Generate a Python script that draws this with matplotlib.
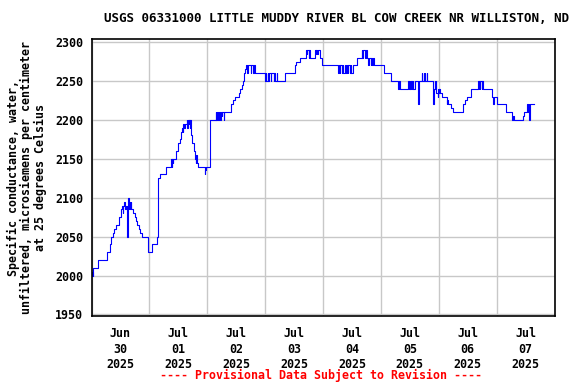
import numpy as np
import pandas as pd
import matplotlib
matplotlib.use("Agg")
import matplotlib.pyplot as plt

# Valeurs (heures depuis le 30 juin 00:00, µS/cm)
hours = [
    0.0, 0.25, 0.5, 0.75, 2.5, 6.25, 6.5, 7.5, 8.0, 8.25, 9.0, 9.5, 10.25, 11.25,
    12.25, 12.75, 13.0, 13.25, 13.5, 14.0, 14.25, 14.75, 15.0, 15.25, 15.5, 15.75,
    16.0, 16.25, 16.5, 17.25, 18.0, 18.5, 19.0, 19.5, 20.25, 20.75, 23.25, 25.25,
    27.0, 27.75, 28.5, 30.75, 33.0, 33.25, 33.5, 33.75, 34.0, 35.0, 35.75, 36.5,
    37.0, 37.5, 37.75, 38.0, 38.25, 38.75, 39.5, 39.75, 40.0, 40.25, 40.5, 40.75,
    41.0, 41.25, 41.75, 42.5, 43.0, 43.25, 43.5, 43.75, 44.25, 47.0, 47.25, 47.5,
    49.25, 51.5, 51.75, 52.0, 52.5, 52.75, 53.25, 53.5, 54.0, 54.25, 54.75, 55.0,
    58.0, 58.75, 59.5, 61.25, 61.75, 62.25, 62.75, 63.25, 63.5, 64.0, 64.5, 64.75,
    66.0, 66.25, 67.0, 67.25, 67.75, 72.0, 72.25, 72.5, 73.0, 73.25, 73.5, 74.25,
    74.5, 75.5, 75.75, 76.25, 76.75, 77.0, 80.25, 84.25, 85.0, 86.5, 89.0, 89.25,
    89.5, 90.0, 90.25, 90.5, 92.75, 93.0, 93.25, 93.5, 93.75, 94.75, 95.75,
    102.25, 102.5, 103.0, 103.25, 104.0, 104.25, 104.5, 105.0, 105.5, 105.75,
    106.25, 106.5, 107.0, 107.5, 107.75, 108.25, 110.25, 112.0, 112.25, 112.5,
    113.5, 113.75, 114.25, 114.75, 115.0, 115.75, 116.0, 116.5, 116.75, 117.0,
    121.25, 124.25, 127.25, 127.5, 127.75, 131.25, 131.5, 132.0, 132.25, 132.5,
    132.75, 133.25, 133.5, 134.0, 135.5, 135.75, 137.0, 137.25, 137.75, 138.0,
    138.25, 138.5, 139.0, 139.25, 141.75, 142.0, 142.25, 142.5, 142.75, 143.0,
    143.5, 143.75, 144.0, 144.25, 144.5, 145.25, 147.25, 147.5, 147.75, 149.25,
    150.0, 154.0, 154.75, 155.75, 157.5, 160.25, 160.5, 160.75, 161.0, 161.25,
    161.75, 162.0, 162.5, 166.0, 166.5, 166.75, 168.25, 171.75, 174.25, 174.5,
    174.75, 175.0, 178.75, 179.25, 180.5, 180.75, 181.0, 181.25, 181.5, 181.75,
    183.5,
]
values = [
    2000, 2005, 2000, 2010, 2020, 2025, 2030, 2040, 2045, 2050, 2055, 2060, 2065, 2075,
    2085, 2090, 2080, 2090, 2095, 2085, 2090, 2050, 2090, 2100, 2085, 2095,
    2085, 2095, 2085, 2080, 2075, 2070, 2065, 2060, 2055, 2050, 2030, 2040,
    2050, 2125, 2130, 2140, 2150, 2140, 2150, 2145, 2150, 2160, 2170, 2175,
    2185, 2190, 2185, 2195, 2190, 2195, 2200, 2190, 2200, 2195, 2200, 2190,
    2200, 2180, 2170, 2160, 2150, 2145, 2155, 2145, 2140, 2130, 2135, 2140,
    2200, 2210, 2200, 2210, 2200, 2210, 2200, 2210, 2205, 2210, 2200, 2210,
    2220, 2225, 2230, 2235, 2240, 2245, 2250, 2260, 2265, 2270, 2260, 2270,
    2260, 2270, 2260, 2270, 2260, 2250, 2260, 2250, 2260, 2250, 2260, 2250,
    2260, 2250, 2260, 2250, 2260, 2250, 2260, 2270, 2275, 2280, 2290, 2285,
    2290, 2280, 2290, 2280, 2290, 2285, 2290, 2285, 2290, 2280, 2270,
    2260, 2270, 2260, 2270, 2260, 2270, 2260, 2270, 2260, 2270,
    2260, 2270, 2260, 2270, 2260, 2270, 2280, 2290, 2280, 2290,
    2280, 2290, 2280, 2270, 2280, 2270, 2280, 2270, 2280, 2270,
    2260, 2250, 2240, 2250, 2240, 2250, 2240, 2250, 2240, 2250,
    2240, 2250, 2240, 2250, 2220, 2250, 2260, 2250, 2260, 2250,
    2260, 2250, 2260, 2250, 2220, 2240, 2250, 2240, 2250, 2235,
    2230, 2240, 2235, 2240, 2235, 2230, 2220, 2225, 2220, 2215,
    2210, 2220, 2225, 2230, 2240, 2250, 2240, 2250, 2240, 2250,
    2240, 2250, 2240, 2230, 2220, 2230, 2220, 2210, 2205, 2200,
    2205, 2200, 2205, 2210, 2215, 2220, 2210, 2220, 2200, 2220,
    2220,
]

start = pd.Timestamp("2025-06-30 00:00")
times = start + pd.to_timedelta(hours, unit="h")

title = "USGS 06331000 LITTLE MUDDY RIVER BL COW CREEK NR WILLISTON, ND"
ylabel = ("Specific conductance, water,\n"
          "unfiltered, microsiemens per centimeter\n"
          "at 25 degrees Celsius")
yticks = [1950, 2000, 2050, 2100, 2150, 2200, 2250, 2300]
day_labels = ["Jun\n30\n2025", "Jul\n01\n2025", "Jul\n02\n2025", "Jul\n03\n2025",
              "Jul\n04\n2025", "Jul\n05\n2025", "Jul\n06\n2025", "Jul\n07\n2025"]

plt.rcParams["font.family"] = "DejaVu Sans Mono"
plt.rcParams["font.weight"] = "bold"

fig = plt.figure(figsize=(5.76, 3.84), dpi=100)
ax = fig.add_axes([91.5 / 576, 1 - 316 / 384, 463 / 576, 277 / 384])

ax.plot(times, values, color="#0000ff", lw=0.8, drawstyle="steps-post")

ax.set_xlim(start, start + pd.Timedelta(days=8))
ax.set_ylim(1948, 2304)

# quadrillage à minuit, étiquettes à midi
midnights = [start + pd.Timedelta(days=i) for i in range(9)]
noons = [start + pd.Timedelta(days=i, hours=12) for i in range(8)]
ax.set_xticks(midnights)
ax.set_xticklabels([""] * len(midnights))
ax.set_xticks(noons, minor=True)
ax.set_xticklabels(day_labels, minor=True, fontsize=8.4, fontweight="bold",
                   linespacing=1.25)
ax.tick_params(axis="x", which="both", length=0, pad=8)

ax.set_yticks(yticks)
ax.set_yticklabels([str(v) for v in yticks], fontsize=8.4, fontweight="bold")
ax.tick_params(axis="y", length=0, pad=6)

ax.grid(True, which="major", color="#c8c8c8", lw=1.0)
ax.set_axisbelow(True)
for s in ax.spines.values():
    s.set_linewidth(1.2)

ax.set_ylabel(ylabel, fontsize=8.4, fontweight="bold", labelpad=6,
              linespacing=1.05)

fig.text(336 / 576, 1 - 19 / 384, title, ha="center", va="center",
         fontsize=9, fontweight="bold")
fig.text(321 / 576, 1 - 375 / 384, "---- Provisional Data Subject to Revision ----",
         ha="center", va="center", fontsize=8.4, fontweight="bold", color="red")

fig.savefig("out.png", dpi=100)
